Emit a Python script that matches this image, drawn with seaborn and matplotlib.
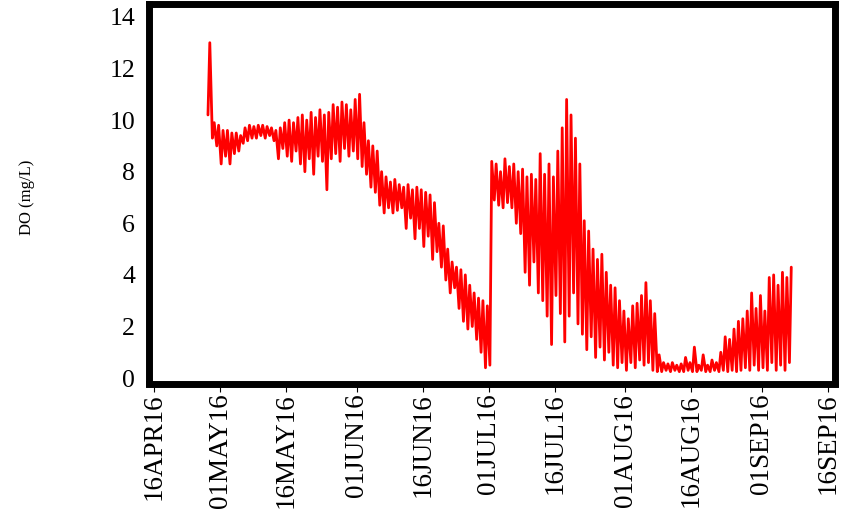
import numpy as np
import pandas as pd
import matplotlib
matplotlib.use("Agg")
import matplotlib.pyplot as plt
import seaborn as sns

# ---- data (daily low / daily high of DO, mg/L) ----
start_day = "2016-04-28"
daily_low = [
    # Apr 28-30
    10.2, 9.3, 9.0,
    # May
    8.3, 8.6, 8.3, 8.7, 8.8, 9.1, 9.2, 9.3, 9.3, 9.4,
    9.3, 9.4, 9.2, 8.5, 8.9, 8.6, 8.4, 8.8, 8.3, 8.0,
    8.5, 7.9, 8.6, 8.4, 7.3, 8.5, 8.7, 8.4, 8.9, 8.6, 8.8,
    # June
    8.5, 8.2, 7.9, 7.4, 7.2, 6.7, 6.4, 6.6, 6.4, 6.5,
    6.6, 5.8, 6.2, 5.4, 5.8, 5.1, 5.5, 4.6, 4.9, 4.3,
    3.8, 3.3, 3.5, 2.7, 2.2, 1.9, 2.0, 1.5, 1.0, 0.4,
    # July
    0.5, 6.9, 6.7, 6.6, 6.8, 6.6, 6.0, 5.6, 4.1, 3.6,
    4.5, 3.3, 3.0, 2.4, 1.3, 3.2, 2.5, 1.4, 2.4, 3.3,
    2.1, 1.7, 1.1, 1.6, 0.8, 1.2, 0.7, 1.0, 0.5, 0.4, 0.6,
    # August
    0.3, 0.6, 0.4, 0.7, 0.5, 0.6, 0.3, 0.25, 0.25, 0.3,
    0.25, 0.3, 0.25, 0.25, 0.3, 0.25, 0.25, 0.3, 0.25, 0.25,
    0.3, 0.25, 0.3, 0.25, 0.3, 0.25, 0.3, 0.4, 0.3, 0.5, 0.3,
    # Sep 1-7
    0.4, 0.3, 0.6, 0.3, 0.5, 0.3, 0.6,
]
daily_high = [
    # Apr 28-30
    13.0, 9.9, 9.8,
    # May
    9.6, 9.6, 9.5, 9.5, 9.4, 9.7, 9.8, 9.75, 9.8, 9.8,
    9.75, 9.7, 9.6, 9.7, 9.9, 10.0, 9.9, 10.1, 10.2, 10.0,
    10.3, 10.1, 10.4, 10.2, 10.3, 10.6, 10.5, 10.7, 10.6, 10.4, 10.8,
    # June
    11.0, 9.9, 9.2, 9.0, 8.8, 8.0, 7.8, 7.6, 7.7, 7.5,
    7.4, 7.5, 7.3, 7.4, 7.3, 7.2, 7.1, 6.8, 6.0, 5.9,
    5.0, 4.5, 4.3, 4.2, 4.0, 3.6, 3.3, 3.1, 3.0, 2.8,
    # July
    8.4, 8.3, 8.0, 8.5, 8.2, 8.3, 8.0, 8.1, 7.8, 7.9,
    7.7, 8.7, 7.9, 8.3, 7.8, 8.8, 9.7, 10.8, 10.2, 9.3,
    8.3, 6.1, 5.7, 5.0, 4.6, 4.8, 4.1, 3.6, 3.5, 3.0, 2.6,
    # August
    2.3, 2.8, 2.9, 3.2, 3.7, 3.0, 2.5, 0.9, 0.6, 0.55,
    0.6, 0.5, 0.55, 0.8, 0.6, 1.2, 0.5, 0.9, 0.5, 0.7,
    0.6, 1.0, 1.6, 1.5, 1.9, 2.2, 2.3, 2.6, 3.3, 2.7, 3.2,
    # Sep 1-7
    2.6, 3.9, 4.0, 3.6, 4.1, 3.9, 4.3,
]
tick_dates = ["2016-04-16", "2016-05-01", "2016-05-16", "2016-06-01",
              "2016-06-16", "2016-07-01", "2016-07-16", "2016-08-01",
              "2016-08-16", "2016-09-01", "2016-09-16"]
tick_labels = ["16APR16", "01MAY16", "16MAY16", "01JUN16", "16JUN16",
               "01JUL16", "16JUL16", "01AUG16", "16AUG16", "01SEP16",
               "16SEP16"]
y_ticks = [0, 2, 4, 6, 8, 10, 12, 14]
y_label = "DO (mg/L)"

# ---- build the time series (low in the morning, high in the afternoon) ----
days = pd.date_range(start_day, periods=len(daily_low), freq="D")
times, vals = [], []
for d, lo, hi in zip(days, daily_low, daily_high):
    times += [d + pd.Timedelta(hours=6), d + pd.Timedelta(hours=16)]
    vals += [lo, hi]
df = pd.DataFrame({"time": times, "DO": vals})

sns.set_theme(style="white")
plt.rcParams["font.family"] = ["Liberation Serif", "DejaVu Serif"]

fig = plt.figure(figsize=(8.46, 5.14), dpi=100)
ax = fig.add_axes([148.5 / 846, 1 - 383.5 / 514, 686 / 846, 379.5 / 514])

sns.lineplot(data=df, x="time", y="DO", ax=ax, color="#ff0000",
             linewidth=2.0, estimator=None, sort=False)

ax.set_xlim(pd.Timestamp("2016-04-16") - pd.Timedelta(days=1.25),
            pd.Timestamp("2016-09-16") + pd.Timedelta(days=1.48))
ax.set_ylim(-0.21, 14.5)

ax.set_xticks(pd.to_datetime(tick_dates))
ax.set_xticklabels(tick_labels, rotation=90)
ax.set_yticks(y_ticks)
ax.set_yticklabels([str(v) for v in y_ticks])

ax.tick_params(axis="x", bottom=True, length=5.8, width=0.8, pad=1.5,
               labelsize=19.5, colors="black", direction="out")
ax.tick_params(axis="y", left=False, length=0, pad=9.7, labelsize=18.5,
               colors="black")

ax.set_xlabel("")
ax.set_ylabel(y_label, fontsize=12, color="black")
ax.yaxis.set_label_coords(-0.165, 0.491)

for s in ax.spines.values():
    s.set_visible(True)
    s.set_linewidth(5.0)
    s.set_color("black")
    s.set_capstyle("projecting")

ax.grid(False)
fig.savefig("out.png", dpi=100)
